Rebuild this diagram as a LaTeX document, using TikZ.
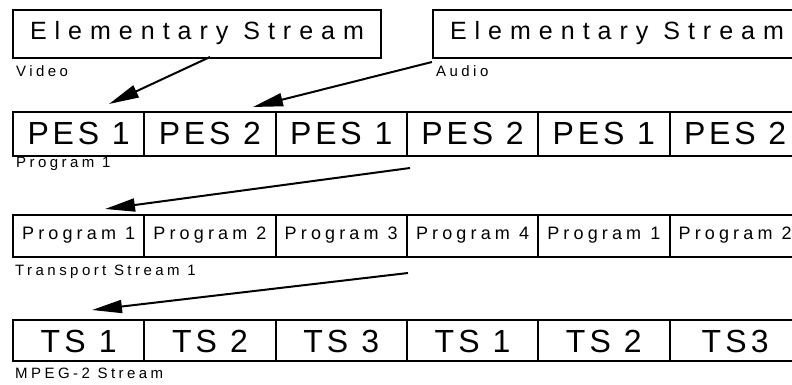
\documentclass[tikz,border=0pt]{standalone}
\usepackage{fontspec}
\setmainfont{Liberation Sans}
\newfontfamily\headfont[LetterSpace=32]{Liberation Sans}
\newfontfamily\pesfont[LetterSpace=12]{Liberation Sans}
\newfontfamily\tsfont[LetterSpace=13]{Liberation Sans}
\newfontfamily\progfont[LetterSpace=23]{Liberation Sans}
\newfontfamily\tagfont[LetterSpace=23]{Liberation Sans}
\usetikzlibrary{arrows.meta}

\begin{document}
\begin{tikzpicture}[x=1pt,y=-1pt,
  box/.style={draw, line width=2pt, inner xsep=0pt, inner ysep=0pt, anchor=north west},
  headbox/.style={box, text height=30pt, text depth=18pt,
    font=\headfont\fontsize{25}{25}\selectfont},
  pescell/.style={box, minimum width=131.3pt, text height=33pt, text depth=11pt,
    font=\pesfont\fontsize{32}{32}\selectfont},
  progcell/.style={box, minimum width=131.3pt, text height=24pt, text depth=18pt,
    font=\progfont\fontsize{18}{18}\selectfont},
  tscell/.style={box, minimum width=131.3pt, text height=32pt, text depth=9pt,
    font=\tsfont\fontsize{32}{32}\selectfont},
  tag/.style={inner sep=0pt, anchor=base west, font=\tagfont\fontsize{15}{15}\selectfont},
  flow/.style={-{Triangle[length=30pt,width=13pt]}, line width=2pt}]

\useasboundingbox (0,0) rectangle (792,385);

% elementary streams
\node[headbox, minimum width=368pt] (video) at (12,9) {Elementary Stream};
\node[headbox, minimum width=368pt] (audio) at (432,9) {Elementary Stream};
\node[tag] (videotag) at (16,77) {Video};
\node[tag] (audiotag) at (436,77) {Audio};

% packetised elementary streams
\foreach \t [count=\i] in {PES 1,PES 2,PES 1,PES 2,PES 1,PES 2}
  \node[pescell] (pes\i) at ({12+131.3*(\i-1)},111) {\t};
\node[tag] (prog1tag) at (16,167) {Program 1};

% programs
\foreach \t [count=\i] in {Program 1,Program 2,Program 3,Program 4,Program 1,Program 2}
  \node[progcell] (prog\i) at ({12+131.3*(\i-1)},214) {\t};
\node[tag] (tstag) at (15,275) {Transport Stream 1};

% transport streams
\foreach \t [count=\i] in {TS 1,TS 2,TS 3,TS 1,TS 2,TS3}
  \node[tscell] (ts\i) at ({12+131.3*(\i-1)},319) {\t};
\node[tag] (mpegtag) at (15,378) {MPEG-2 Stream};

% connector ends
\coordinate (v0) at (210,57);
\coordinate (v1) at (109,104);
\coordinate (a0) at (432,62);
\coordinate (a1) at (253,107);
\coordinate (p0) at (410,168);
\coordinate (p1) at (105,209);
\coordinate (t0) at (408,273);
\coordinate (t1) at (92,310);

\draw[flow] (v0) -- (v1);
\draw[flow] (a0) -- (a1);
\draw[flow] (p0) -- (p1);
\draw[flow] (t0) -- (t1);
\end{tikzpicture}
\end{document}
